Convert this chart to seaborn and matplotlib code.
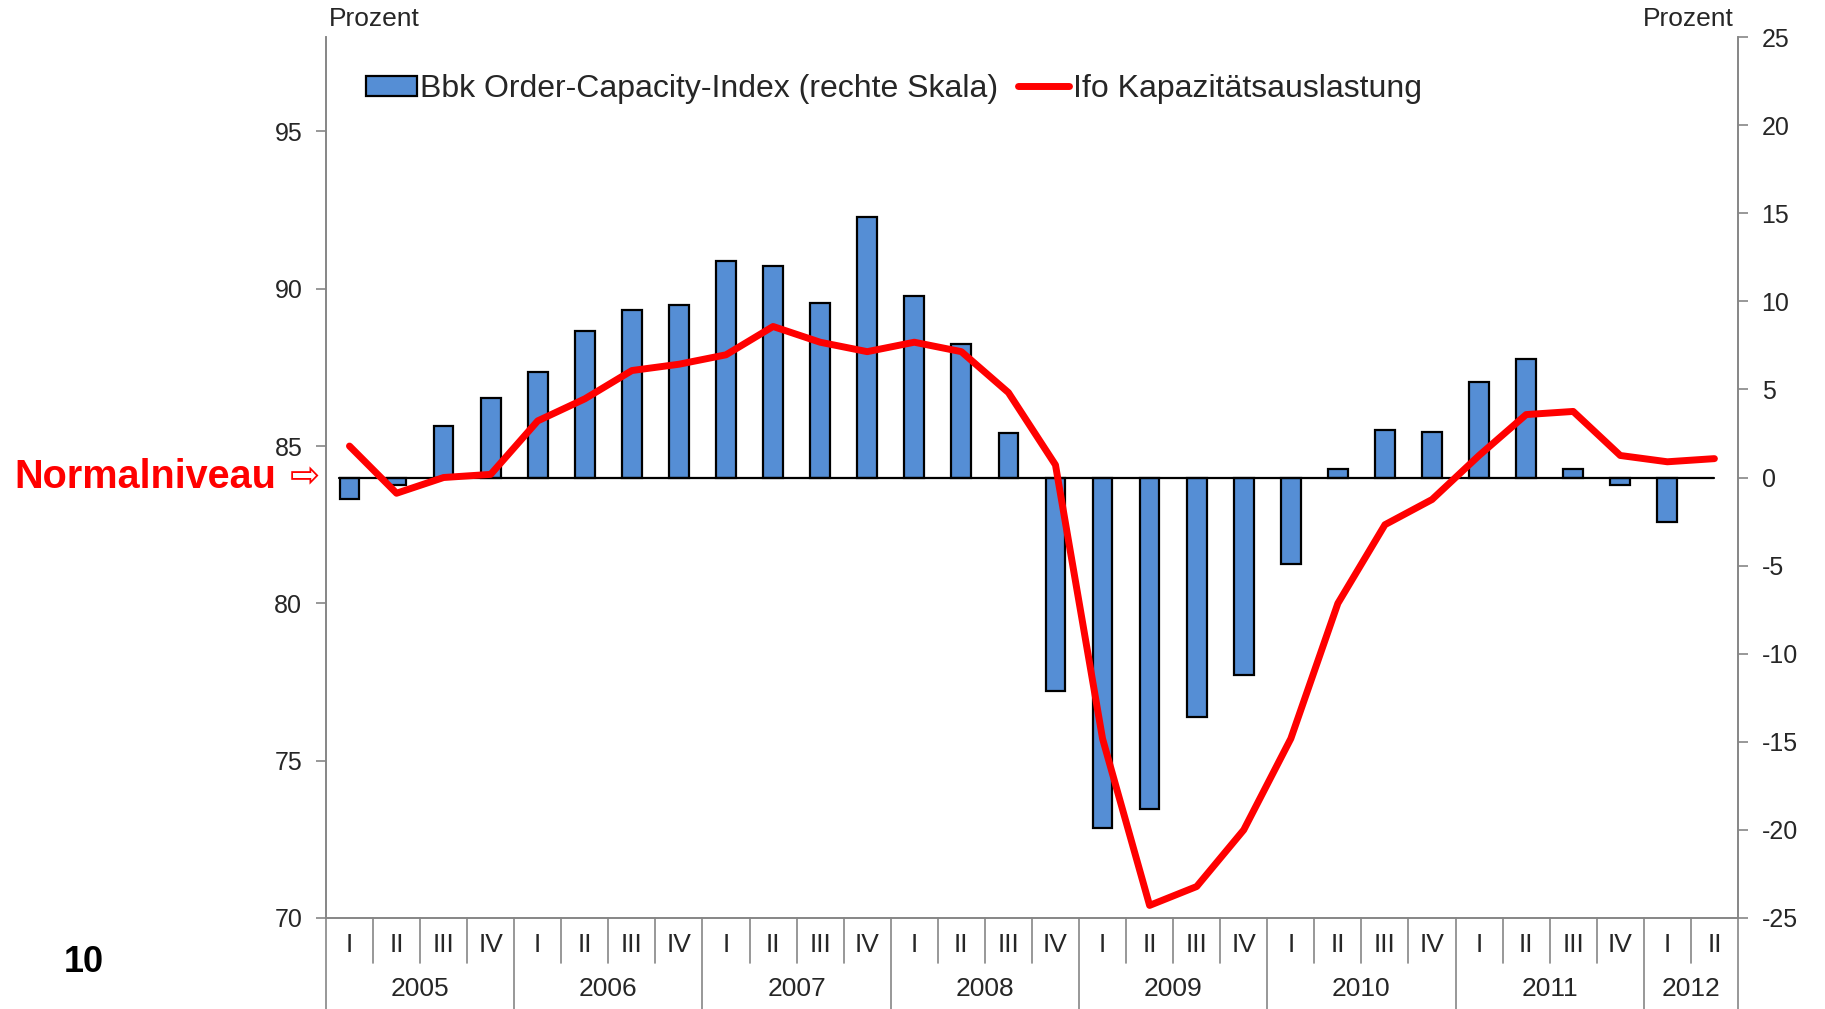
import seaborn as sns
import matplotlib.pyplot as plt
import pandas as pd
from matplotlib.patches import Patch
from matplotlib.lines import Line2D

# ----------------------------
# Data
# ----------------------------
years = ['2005', '2006', '2007', '2008', '2009', '2010', '2011', '2012']
quarters = ['I', 'II', 'III', 'IV']
n_quarters_per_year = [4, 4, 4, 4, 4, 4, 4, 2]

# Bbk Order-Capacity-Index (right scale), no bar for 2012 II
bbk_index = [-1.2, -0.4, 2.9, 4.5, 6.0, 8.3, 9.5, 9.8,
             12.3, 12.0, 9.9, 14.8, 10.3, 7.6, 2.5, -12.1,
             -19.9, -18.8, -13.6, -11.2, -4.9, 0.5, 2.7, 2.6,
             5.4, 6.7, 0.5, -0.4, -2.5, None]

# Ifo Kapazitaetsauslastung (left scale, percent)
ifo_capacity = [85.0, 83.5, 84.0, 84.1, 85.8, 86.5, 87.4, 87.6,
                87.9, 88.8, 88.3, 88.0, 88.3, 88.0, 86.7, 84.4,
                75.7, 70.4, 71.0, 72.8, 75.7, 80.0, 82.5, 83.3,
                84.7, 86.0, 86.1, 84.7, 84.5, 84.6]

labels = []
for y, n in zip(years, n_quarters_per_year):
    for q in quarters[:n]:
        labels.append(y + ' ' + q)

df = pd.DataFrame({'Quartal': labels, 'Bbk': bbk_index, 'Ifo': ifo_capacity})

bar_blue = '#558ED5'
axis_grey = '#868686'

# ----------------------------
# Style
# ----------------------------
sns.set_style("white")
plt.rcParams['font.family'] = ['Liberation Sans', 'DejaVu Sans']
plt.rcParams['axes.unicode_minus'] = False

fig = plt.figure(figsize=(18.25, 10.09), dpi=100)
ax = fig.add_axes([0.1786, 0.0902, 0.9523 - 0.1786, 0.9633 - 0.0902])

# bars on the right scale
sns.barplot(data=df, x='Quartal', y='Bbk', ax=ax, color=bar_blue, saturation=1,
            edgecolor='black', linewidth=1.6, width=0.42, errorbar=None)
ax.set_ylim(-25, 25)
ax.set_xlim(-0.5, len(labels) - 0.5)
ax.set_xlabel('')
ax.set_ylabel('')
ax.set_xticks([])

# zero line ("Normalniveau")
ax.axhline(0, xmin=0.009, xmax=0.983, color='black', linewidth=1.6, zorder=1)

# red line on the left scale
ax2 = ax.twinx()
sns.lineplot(data=df, x='Quartal', y='Ifo', ax=ax2, color='#FF0000', linewidth=5, sort=False)
ax2.set_ylim(70, 98)
ax2.set_yticks(range(70, 96, 5))
ax2.yaxis.tick_left()
ax2.yaxis.set_label_position('left')
ax2.tick_params(axis='y', labelsize=18, length=7, width=1.2, color=axis_grey, pad=10,
                direction='out', left=True, right=False, labelleft=True, labelright=False)
ax2.set_xlabel('')
ax2.set_ylabel('')
ax2.set_xticks([])
ax2.set_xlim(-0.5, len(labels) - 0.5)

# right scale ticks for the bars (after twinx, which resets them)
ax.yaxis.tick_right()
ax.set_yticks(range(-25, 26, 5))
ax.tick_params(axis='y', labelsize=18, length=7, width=1.2, color=axis_grey, pad=10,
               direction='out', right=True, left=False, labelright=True, labelleft=False)

for a in (ax, ax2):
    a.spines['top'].set_visible(False)
    for side in ('left', 'right', 'bottom'):
        a.spines[side].set_color(axis_grey)
        a.spines[side].set_linewidth(1.2)

# ----------------------------
# Category axis (quarters + years)
# ----------------------------
tr = ax.get_xaxis_transform()
pos = 0
for y, n in zip(years, n_quarters_per_year):
    for i in range(n):
        ax.text(pos + i, -0.031, quarters[i], transform=tr, ha='center', va='center',
                fontsize=19)
        if i > 0:
            ax.plot([pos + i - 0.5] * 2, [0, -0.051], transform=tr, color=axis_grey,
                    linewidth=1.2, clip_on=False)
    ax.plot([pos - 0.5] * 2, [0, -0.11], transform=tr, color=axis_grey,
            linewidth=1.2, clip_on=False)
    ax.text(pos + (n - 1) / 2, -0.081, y, transform=tr, ha='center', va='center',
            fontsize=19)
    pos += n
ax.plot([pos - 0.5] * 2, [0, -0.11], transform=tr, color=axis_grey,
        linewidth=1.2, clip_on=False)

# ----------------------------
# Texts and legend
# ----------------------------
ax.text(0.002, 1.02, 'Prozent', transform=ax.transAxes, ha='left', va='center', fontsize=19)
ax.text(0.997, 1.02, 'Prozent', transform=ax.transAxes, ha='right', va='center', fontsize=19)

fig.text(0.008, 0.527, 'Normalniveau', color='#FF0000', fontsize=28.5, fontweight='bold',
         ha='left', va='center')
fig.text(0.1755, 0.527, '\u21e8', color='#FF0000', fontsize=26, ha='right', va='center',
         family=['DejaVu Sans'])
fig.text(0.035, 0.0456, '10', color='black', fontsize=26, fontweight='bold',
         ha='left', va='center')

handles = [Patch(facecolor=bar_blue, edgecolor='black', linewidth=1.6),
           Line2D([0], [0], color='#FF0000', linewidth=5)]
ax2.legend(handles, ['Bbk Order-Capacity-Index (rechte Skala)', 'Ifo Kapazitätsauslastung'],
           loc='center left', bbox_to_anchor=(0.019, 0.941), ncol=2, frameon=False,
           fontsize=23, handlelength=1.6, handleheight=0.6, handletextpad=0.12,
           columnspacing=0.6, borderaxespad=0)

plt.savefig('out.png', dpi=100)
plt.close()
